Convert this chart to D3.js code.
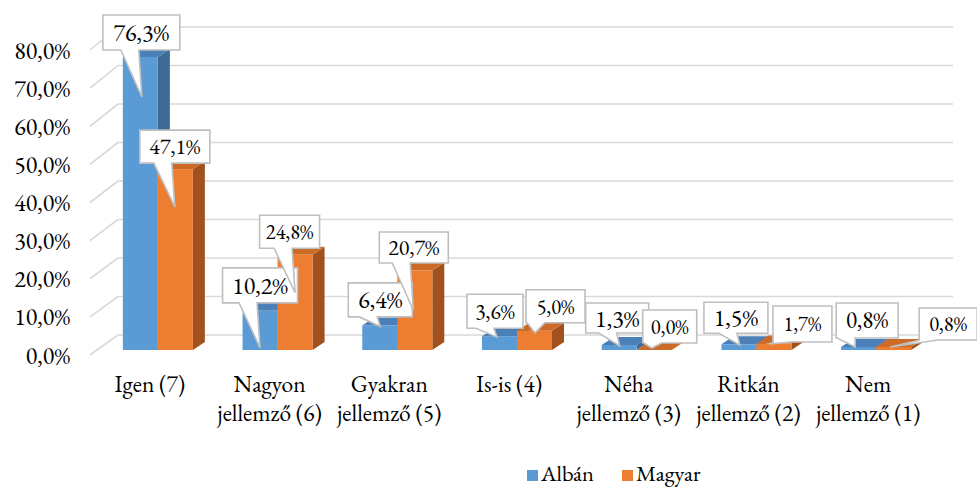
<!DOCTYPE html>
<html>
<head>
<meta charset="utf-8">
<script src="https://cdn.jsdelivr.net/npm/d3@7"></script>
<style>
  html, body { margin: 0; padding: 0; background: #fff; }
  svg { display: block; }
</style>
</head>
<body>
<svg id="chart" width="977" height="489"></svg>
<script>
// ---- Data ----
const categories = ["Igen (7)", "Nagyon\njellemző (6)", "Gyakran\njellemző (5)", "Is-is (4)", "Néha\njellemző (3)", "Ritkán\njellemző (2)", "Nem\njellemző (1)"];
const seriesNames = ["Albán", "Magyar"];
const albanValues = [76.3, 10.2, 6.4, 3.6, 1.3, 1.5, 0.8];
const magyarValues = [47.1, 24.8, 20.7, 5.0, 0.0, 1.7, 0.8];
const yTicks = [0, 10, 20, 30, 40, 50, 60, 70, 80];

// ---- Callout layout (offsets relative to bar top-centre): [boxDx, boxDy, boxW, boxH, tipDx, tipDy, fontSize]
const albanLabelLayout = [
  [1, -24.5, 77, 35, 1.5, 40, 24],
  [0, -25.5, 75, 35, 0, 37, 24],
  [0.5, -25.5, 64, 34, 0.5, 1, 24],
  [-4.5, -25, 56, 34, -2.5, 1, 21.5],
  [-2, -27, 63, 30, 0.5, 1, 24],
  [-3, -26.5, 64, 31, 1, 1, 24],
  [8.5, -26.5, 62, 35, -3.5, 0, 23]
];
const magyarLabelLayout = [
  [-0.5, -22.5, 70, 33, -0.5, 38, 22],
  [-5.5, -23, 60, 33, 0, 38, 20.5],
  [-1, -23, 69, 31, -1.5, 39.5, 22],
  [21, -24.5, 59, 33, 0.5, 2, 20.5],
  [15.5, -23.5, 54, 33, -2.5, -2, 20.5],
  [28.5, -19.5, 59, 36, -5, 0.5, 20.5],
  [54.5, -23, 58, 32, -3.5, 0, 20.5]
];

const colors = {
  "Albán":  { front: "#5b9bd5", top: "#4a7fb7", side: "#3e6b95" },
  "Magyar": { front: "#ed7d31", top: "#cc6a27", side: "#a0511d" }
};

const FONT = "EB Garamond";
const svg = d3.select("#chart");
const fmt = v => d3.format(".1f")(v).replace(".", ",") + "%";

// ---- Scales ----
const x0 = d3.scaleBand().domain(categories).range([98, 936]).paddingInner(0.415).paddingOuter(0.2075);
const x1 = d3.scaleBand().domain(seriesNames).range([0, x0.bandwidth()]);
const yBar = d3.scaleLinear().domain([0, 80]).range([350, 350 - 80 * 3.84]);
const yBack = d3.scaleLinear().domain([0, 80]).range([335, 27]);
const yFront = d3.scaleLinear().domain([0, 80]).range([355, 50]);
const depth = { dx: 12, dy: -8 };
const wall = { frontX: 90, backX: 118, rightX: 953 };

// ---- Gridlines ----
const grid = svg.append("g");
grid.selectAll("line.back").data(yTicks).join("line")
  .attr("x1", wall.backX).attr("x2", wall.rightX)
  .attr("y1", d => yBack(d)).attr("y2", d => yBack(d))
  .attr("stroke", "#d9d9d9").attr("stroke-width", 1.6);
grid.selectAll("line.side").data(yTicks).join("line")
  .attr("x1", wall.frontX).attr("x2", wall.backX)
  .attr("y1", d => yFront(d)).attr("y2", d => yBack(d))
  .attr("stroke", "#d9d9d9").attr("stroke-width", 1.6);

// ---- Y axis labels ----
svg.append("g").selectAll("text").data(yTicks).join("text")
  .attr("x", 70).attr("y", d => yFront(d))
  .attr("text-anchor", "end").attr("dominant-baseline", "central")
  .attr("font-family", FONT)
  .attr("font-size", 24).attr("fill", "#000")
  .text(d => fmt(d));

// ---- Bars ----
const seriesData = [albanValues, magyarValues];
const barsG = svg.append("g");
categories.forEach((cat, i) => {
  seriesNames.forEach((s, j) => {
    const v = seriesData[j][i];
    const xl = x0(cat) + x1(s), w = x1.bandwidth();
    const yt = yBar(v), yb = yBar(0);
    const c = colors[s];
    const g = barsG.append("g");
    g.append("path").attr("fill", c.side)
      .attr("d", `M${xl + w},${yt} L${xl + w + depth.dx},${yt + depth.dy} L${xl + w + depth.dx},${yb + depth.dy} L${xl + w},${yb} Z`);
    g.append("path").attr("fill", c.top)
      .attr("d", `M${xl},${yt} L${xl + depth.dx},${yt + depth.dy} L${xl + w + depth.dx},${yt + depth.dy} L${xl + w},${yt} Z`);
    g.append("rect").attr("x", xl).attr("y", yt).attr("width", w).attr("height", Math.max(0, yb - yt))
      .attr("fill", c.front);
  });
});

// ---- Category labels ----
const catG = svg.append("g");
categories.forEach(cat => {
  const cx = x0(cat) + x0.bandwidth() / 2 - 8;
  const t = catG.append("text").attr("text-anchor", "middle").attr("font-size", 23.5)
    .attr("font-family", FONT).attr("fill", "#000");
  cat.split("\n").forEach((line, k) => {
    t.append("tspan").attr("x", cx).attr("y", 392 + k * 29).text(line);
  });
});

// ---- Callout data labels ----
const labelsG = svg.append("g");
const layouts = [albanLabelLayout, magyarLabelLayout];
seriesNames.forEach((s, j) => {
  categories.forEach((cat, i) => {
    const v = seriesData[j][i];
    const [bdx, bdy, bw, bh, tdx, tdy, fs] = layouts[j][i];
    const cx = x0(cat) + x1(s) + x1.bandwidth() / 2;
    const cy = yBar(v);
    const bx = cx + bdx, by = cy + bdy;
    const L = bx - bw / 2, R = bx + bw / 2, T = by - bh / 2, B = by + bh / 2;
    const tx = cx + tdx, ty = cy + tdy;
    const bc = Math.max(L + 10, Math.min(R - 10, tx - 12));
    const path = `M${L},${T} L${R},${T} L${R},${B} L${bc + 9},${B} L${tx},${ty} L${bc - 9},${B} L${L},${B} Z`;
    labelsG.append("path").attr("d", path).attr("fill", "#fff")
      .attr("stroke", "#bfbfbf").attr("stroke-width", 1.6).attr("stroke-linejoin", "miter");
    labelsG.append("text").attr("x", bx).attr("y", by)
      .attr("text-anchor", "middle").attr("dominant-baseline", "central")
      .attr("font-family", FONT)
      .attr("font-size", fs).attr("fill", "#000")
      .text(fmt(v));
  });
});

// ---- Legend ----
const legendG = svg.append("g");
const legendX = [527, 622];
seriesNames.forEach((s, j) => {
  legendG.append("rect").attr("x", legendX[j]).attr("y", 470).attr("width", 11).attr("height", 11)
    .attr("fill", colors[s].front);
  legendG.append("text").attr("x", legendX[j] + 14).attr("y", 481)
    .attr("font-size", 22.5)
    .attr("font-family", FONT).attr("fill", "#000").text(s);
});
</script>
</body>
</html>
